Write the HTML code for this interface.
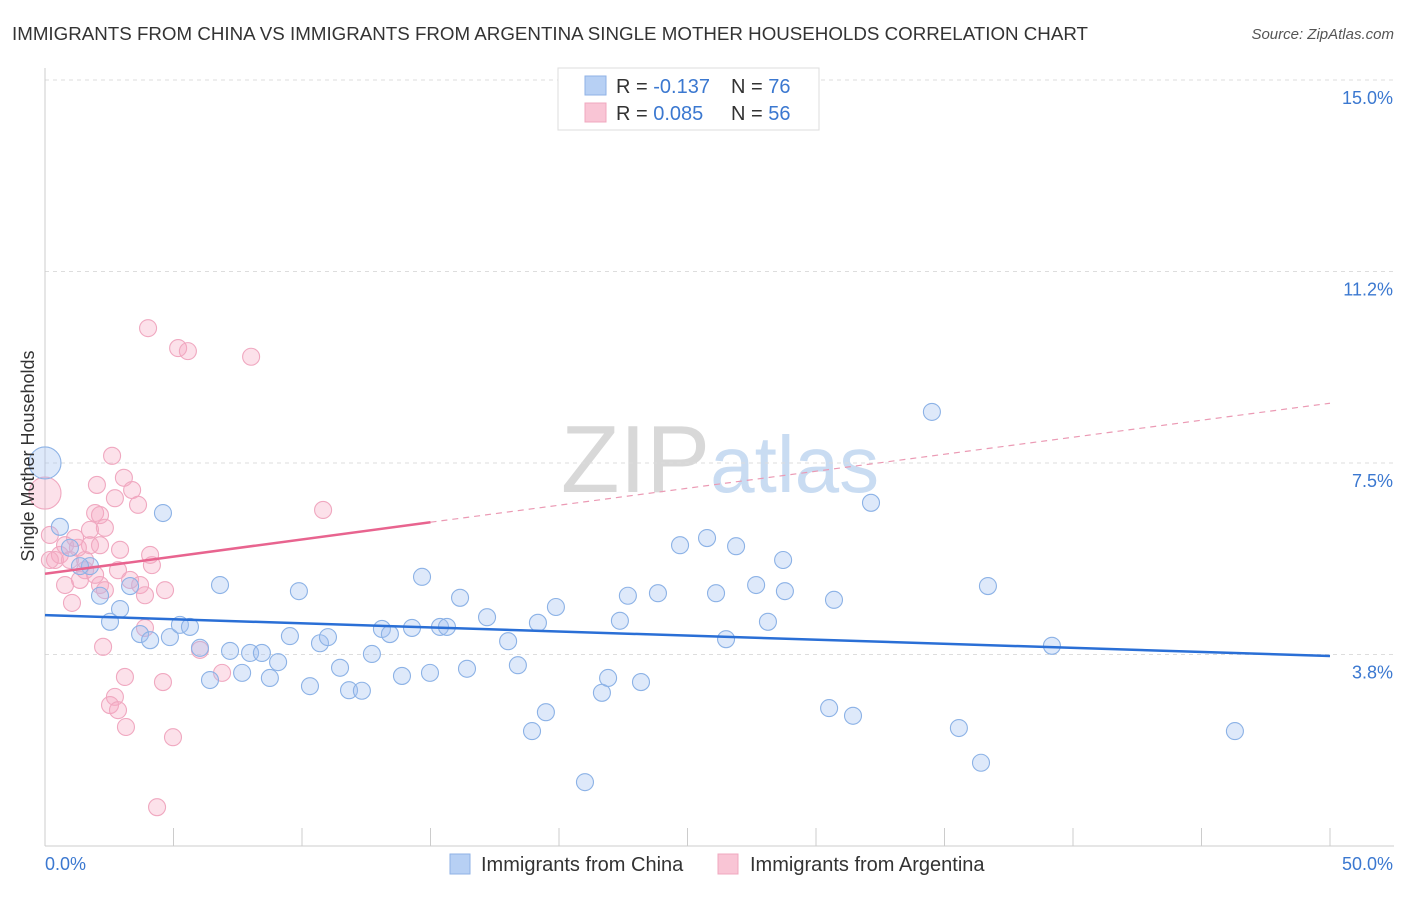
<!DOCTYPE html>
<html><head><meta charset="utf-8"><style>
body{margin:0;background:#fff;font-family:"Liberation Sans",sans-serif;}
svg text{font-family:"Liberation Sans",sans-serif;}
</style></head><body>
<svg id="chart" width="1406" height="892" xmlns="http://www.w3.org/2000/svg">
<text x="12" y="40" font-size="18" fill="#333" textLength="1076" lengthAdjust="spacingAndGlyphs">IMMIGRANTS FROM CHINA VS IMMIGRANTS FROM ARGENTINA SINGLE MOTHER HOUSEHOLDS CORRELATION CHART</text>
<text x="1394" y="39" font-size="15" fill="#555" text-anchor="end" font-style="italic">Source: ZipAtlas.com</text>
<text x="720" y="492" font-size="96" text-anchor="middle" fill="#ddd" font-family="Liberation Serif"><tspan fill="#d8d8d8">ZIP</tspan><tspan fill="#c9dcf2" font-family="Liberation Sans" font-size="80">atlas</tspan></text>
<g id="grid"></g>
<g id="axes"></g>
<g id="marks"></g>
<text transform="translate(34,456) rotate(-90)" font-size="18" fill="#333" text-anchor="middle">Single Mother Households</text>
<g>
<rect x="558" y="68" width="261" height="62" fill="#fff" stroke="#ddd"/>
<rect x="585" y="76" width="21" height="19" fill="#b7d0f4" stroke="#8fb2e6"/>
<rect x="585" y="103" width="21" height="19" fill="#f9c5d5" stroke="#f0a8bf"/>
<text x="616" y="93" font-size="20" fill="#333">R = <tspan fill="#3b78d0">-0.137</tspan><tspan x="731">N = </tspan><tspan fill="#3b78d0">76</tspan></text>
<text x="616" y="120" font-size="20" fill="#333">R = <tspan fill="#3b78d0"> 0.085</tspan><tspan x="731">N = </tspan><tspan fill="#3b78d0">56</tspan></text>
</g>
<g>
<rect x="450" y="854" width="20" height="20" fill="#b7d0f4" stroke="#8fb2e6"/>
<text x="481" y="871" font-size="20" fill="#333">Immigrants from China</text>
<rect x="718" y="854" width="20" height="20" fill="#f9c5d5" stroke="#f0a8bf"/>
<text x="750" y="871" font-size="20" fill="#333">Immigrants from Argentina</text>
</g>
</svg>
<script>
const yTicks=[15,11.25,7.5,3.75];
const yTickLabels=["15.0%","11.2%","7.5%","3.8%"];
const xTicks=[0,5,10,15,20,25,30,35,40,45,50];
const xEndLabels=["0.0%","50.0%"];
const chinaX=[0,0.58,0.97,1.75,1.36,2.14,2.92,2.53,3.31,4.59,3.70,4.09,4.86,5.25,5.64,6.03,6.42,6.81,7.20,7.67,7.98,8.44,8.75,9.07,9.53,9.88,10.31,10.70,11.01,11.48,11.83,12.33,12.72,13.11,13.42,13.89,14.28,14.67,14.98,15.37,15.64,16.15,16.42,17.20,18.02,18.40,18.95,19.49,19.18,19.88,21.01,21.67,21.91,22.37,22.68,23.19,23.85,24.71,25.76,26.11,26.50,26.89,27.67,28.13,28.72,28.79,30.51,30.70,31.44,32.14,34.51,35.56,36.42,36.69,39.18,46.30];
const chinaY=[7.5,6.25,5.84,5.48,5.48,4.90,4.64,4.39,5.09,6.52,4.15,4.03,4.09,4.33,4.29,3.88,3.25,5.11,3.82,3.39,3.78,3.78,3.29,3.60,4.11,4.99,3.13,3.97,4.09,3.49,3.05,3.04,3.76,4.25,4.15,3.33,4.27,5.27,3.39,4.29,4.29,4.86,3.47,4.48,4.01,3.54,2.25,2.62,4.37,4.68,1.25,3.00,3.29,4.41,4.90,3.21,4.95,5.89,6.03,4.95,4.05,5.87,5.11,4.39,5.60,4.99,2.70,4.82,2.55,6.72,8.50,2.31,1.63,5.09,3.92,2.25];
const argX=[0,0.19,0.39,0.58,0.78,0.97,1.17,1.36,1.56,1.75,1.95,2.02,2.14,2.33,2.14,2.33,1.05,0.78,2.61,2.92,2.84,3.07,3.31,3.39,3.62,3.70,3.89,4.09,4.16,4.67,3.11,2.72,2.53,2.84,3.15,2.26,3.89,4.59,4.98,4.36,4.01,5.18,5.56,8.02,6.03,6.89,10.82,1.56,0.19,1.75,2.14,1.28,2.72,1.95];
const argY=[6.91,6.09,5.60,5.70,5.89,5.60,6.03,5.21,5.40,6.19,6.52,7.07,6.48,6.23,5.11,5.01,4.76,5.11,7.64,5.80,5.40,7.21,5.21,6.97,6.68,5.11,4.91,5.70,5.50,5.01,3.31,2.92,2.76,2.66,2.33,3.90,4.27,3.21,2.13,0.76,10.14,9.75,9.69,9.58,3.84,3.39,6.58,5.60,5.60,5.89,5.89,5.84,6.81,5.31];
const chinaTrend=[[0,4.52],[50,3.72]];
const argTrendSolid=[[0,5.33],[15,6.34]];
const argTrendDash=[[15,6.34],[50,8.67]];
const NS="http://www.w3.org/2000/svg";
const sx=v=>45+v*25.7, sy=v=>846-v*51.07;
function mk(tag,attrs,parent){const e=document.createElementNS(NS,tag);for(const k in attrs)e.setAttribute(k,attrs[k]);parent.appendChild(e);return e;}
const grid=document.getElementById('grid'),axes=document.getElementById('axes'),marks=document.getElementById('marks');
yTicks.forEach((t,i)=>{
 const l=mk('line',{x1:45,x2:1394,y1:sy(t),y2:sy(t),stroke:'#ddd','stroke-dasharray':'4,4'},grid);
 
 
 const tx=mk('text',{x:1393,y:sy(t)+24,'font-size':18,fill:'#3b78d0','text-anchor':'end'},axes);
 tx.textContent=yTickLabels[i];
 
 
});
const ax=mk('line',{x1:45,x2:1394,y1:846,y2:846,stroke:'#ccc'},axes);


const ay=mk('line',{x1:45,x2:45,y1:68,y2:846,stroke:'#ccc'},axes);


xTicks.forEach(t=>{
 const l=mk('line',{x1:sx(t),x2:sx(t),y1:828,y2:846,stroke:'#ccc'},axes);
 
 
});
const xl0=mk('text',{x:45,y:870,'font-size':18,fill:'#3b78d0'},axes);xl0.textContent=xEndLabels[0];


const xl1=mk('text',{x:1393,y:870,'font-size':18,fill:'#3b78d0','text-anchor':'end'},axes);xl1.textContent=xEndLabels[1];


function pts(X,Y,fill,stroke,name){X.forEach((x,i)=>{
 const c=mk('circle',{cx:sx(x),cy:sy(Y[i]),r:i===0?16:8.5,fill:fill,stroke:stroke,'stroke-width':1.1},marks);
 
 
});}
pts(argX,argY,'rgba(246,170,196,0.35)','#f0a8c0','argentina-point');
pts(chinaX,chinaY,'rgba(160,192,240,0.35)','#8cb2e6','china-point');
function line(seg,color,w,dash,name){
 const l=mk('line',{x1:sx(seg[0][0]),y1:sy(seg[0][1]),x2:sx(seg[1][0]),y2:sy(seg[1][1]),stroke:color,'stroke-width':w},marks);
 if(dash)l.setAttribute('stroke-dasharray',dash);
 
 
}
line(chinaTrend,'#2a6fd6',2.5,null,'china-trend-line');
line(argTrendSolid,'#e8648f',2.5,null,'argentina-trend-line');
line(argTrendDash,'#eb9ab4',1.2,'6,5','argentina-trend-extension');
</script>
</body></html>
